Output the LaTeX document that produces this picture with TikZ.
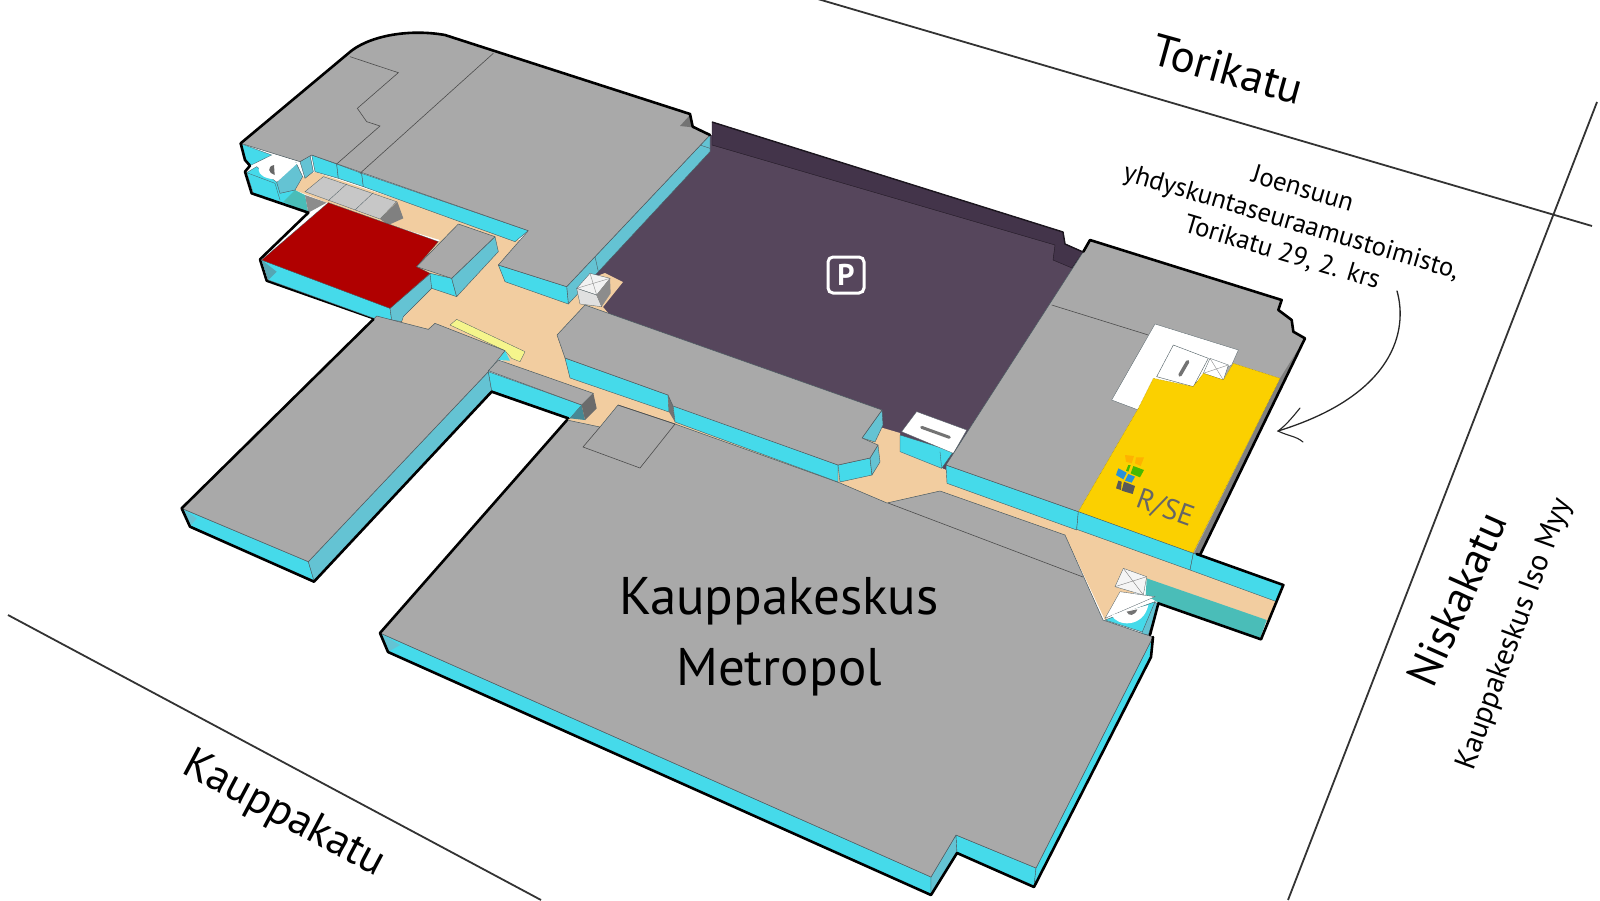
\documentclass[tikz,border=0pt]{standalone}
\usepackage{fontspec}
\setmainfont{PT Sans}
\definecolor{roof}{HTML}{A9A9A9}
\definecolor{wallA}{HTML}{45DAEA}
\definecolor{wallB}{HTML}{64C3D3}
\definecolor{floorc}{HTML}{F2CDA0}
\definecolor{park}{HTML}{56465C}
\definecolor{parkd}{HTML}{43344A}
\definecolor{edgec}{HTML}{4A5A60}
\definecolor{riseY}{HTML}{FBD000}
\definecolor{tealc}{HTML}{4ABDB8}
\tikzset{
 zone/.style 2 args={shift={(#1pt,-#2pt)},x=.33333pt,y=-.33333pt},
 roof/.style={fill=roof,draw=edgec,line width=.5pt,line join=round},
 wa/.style={fill=wallA,draw=edgec,line width=.4pt,line join=round},
 wb/.style={fill=wallB,draw=edgec,line width=.4pt,line join=round},
 outline/.style={draw=black,line width=2.6pt,line join=round,line cap=round},
 road/.style={draw=black!80,line width=1.8pt},
 thin/.style={draw=black!70,line width=.6pt},
 lab/.style={text=black,inner sep=0pt,align=center},
}
\begin{document}
\begin{tikzpicture}[x=1pt,y=-1pt]
\useasboundingbox (0,0) rectangle (1600,900);
\fill[white] (0,0) rectangle (1600,900);
% roads
\draw[road] (811,-3) -- (1592,226);
\draw[road] (1597,102) -- (1288,900);
\draw[road] (8,615) -- (541,900);
% parking
\fill[park] (695,130) -- (1083,252) -- (946,470) -- (883,440) -- (590,330) -- (570,290) -- cycle;
\fill[parkd,draw=black!50!parkd,line width=.4pt] (712,122) -- (1063,232) -- (1065,244) -- (1083,252) -- (1072,268) -- (1053,260) -- (1055,245) -- (712,145) -- cycle;
% corridor
\fill[floorc] (295,190) -- (303,177) -- (315,172) -- (520,240) -- (505,262) -- (560,290) -- (605,273) -- (623,282) -- (603,307) -- (640,350) -- (720,420) -- (883,428) -- (900,433) -- (900,452) -- (946,470) -- (1078,520) -- (1193,562) -- (1277,600) -- (1267,622) -- (1147,580) -- (1105,620) -- (1065,535) -- (887,505) -- (820,480) -- (675,425) -- (600,430) -- (568,423) -- (560,400) -- (480,345) -- (430,335) -- (395,325) -- (403,318) -- (430,290) -- (410,270) -- (440,240) -- (390,225) -- (320,200) -- cycle;
% upper left wing
\begin{scope}[zone={200}{20}]
 % lower and left walls
 \fill[wallA,draw=edgec,line width=.3pt] (125,372) -- (215,405) -- (150,437) -- (135,420) -- cycle;
 \fill[wallA,draw=edgec,line width=.3pt] (140,458) -- (170,440) -- (232,488) -- (285,510) -- (320,575) -- (160,520) -- cycle;
 \draw[edgec,line width=.3pt] (140,458) -- (225,490) -- (240,540);
 \fill[tealc] (250,545) -- (285,510) -- (315,525) -- (325,578) -- cycle;
 \fill[wb] (230,487) -- (288,428) -- (308,470) -- (285,510) -- (240,520) -- cycle;
 \fill[white] (222,405) -- (292,430) -- (232,485) -- cycle;
 \fill[white] (222,420) .. controls (160,425) and (160,475) .. (226,478) -- cycle;
 \fill[black!60] (222,435) .. controls (200,440) and (205,460) .. (224,465) -- cycle;
 % escalator
 \fill[black!45] (315,525) -- (380,548) -- (325,578) -- cycle;
 \fill[black!22,draw=edgec,line width=.3pt] (315,515) -- (370,470) -- (590,545) -- (540,597) -- cycle;
 \draw[edgec,line width=.3pt] (440,492) -- (385,542) (520,518) -- (465,570);
 \fill[black!50] (540,597) -- (592,545) -- (610,595) -- (565,615) -- cycle;
 % main wing walls
 \fill[wb] (300,425) -- (330,405) -- (340,455) -- (315,475) -- cycle;
 \fill[wa] (335,405) -- (410,432) -- (415,475) -- (345,455) -- cycle;
 \fill[wa] (410,432) -- (485,460) -- (490,500) -- (415,475) -- cycle;
 \fill[wa] (485,460) -- (985,632) -- (945,665) -- (490,500) -- cycle;
 \fill[wb] (1530,345) -- (1100,800) -- (1105,852) -- (1530,395) -- cycle;
 \draw[edgec,line width=.4pt] (1530,385) -- (1500,375) (1185,710) -- (1195,755);
 \fill[wa] (895,735) -- (1100,800) -- (1105,852) -- (915,785) -- cycle;
 % roof
 \path[roof] (122,370) -- (445,100) .. controls (500,50) and (620,25) .. (735,45) -- (1470,282) -- (1478,320) -- (1530,345) -- (1100,800) -- (895,735) -- (985,632) -- (335,405) -- (300,425) -- cycle;
 \fill[black!55] (1440,318) -- (1470,285) -- (1478,322) -- cycle;
 \draw[thin] (450,110) -- (595,158) -- (472,265) -- (500,305) -- (540,318) -- (410,432);
 \draw[thin] (880,100) -- (480,460);
 \draw[outline] (122,370) -- (445,100) .. controls (500,50) and (620,25) .. (735,45) -- (1470,282) -- (1478,320) -- (1530,345);
 \draw[outline] (122,370) -- (135,420) -- (150,437) -- (135,455) -- (155,520) -- (325,578) -- (180,718) -- (200,782) -- (530,898);
 % red shop
 \fill[wa] (185,720) -- (570,865) -- (575,900) -- (530,898) -- (205,780) -- cycle;
 \fill[wallB!85!black] (185,720) -- (230,755) -- (205,780) -- cycle;
 \fill[wb] (570,865) -- (692,760) -- (695,805) -- (610,890) -- (605,905) -- (575,900) -- cycle;
 \fill[fill={rgb,255:red,176;green,0;blue,0},draw=edgec,line width=.3pt] (385,548) -- (715,665) -- (650,740) -- (690,760) -- (570,865) -- (185,720) -- cycle;
 % gray box
 \fill[wa] (690,760) -- (755,775) -- (770,830) -- (695,805) -- cycle;
 \fill[wb] (885,650) -- (895,695) -- (770,830) -- (755,775) -- cycle;
 \path[roof] (775,612) -- (885,650) -- (755,775) -- (650,740) -- cycle;
 % stair box
 \fill[black!5,draw=edgec,line width=.3pt] (1170,760) -- (1230,775) -- (1190,825) -- (1130,805) -- cycle;
 \draw[black!45,line width=.4pt] (1170,760) -- (1190,825) (1230,775) -- (1130,805);
 \fill[black!12,draw=edgec,line width=.3pt] (1130,805) -- (1190,825) -- (1205,860) -- (1140,852) -- cycle;
 \fill[black!45] (1230,775) -- (1232,820) -- (1205,860) -- (1190,825) -- cycle;
\end{scope}
% long wing and strip
\begin{scope}[zone={170}{290}]
 \fill[fill={rgb,255:red,245;green,245;blue,140},draw=edgec,line width=.3pt] (840,105) -- (860,88) -- (1065,185) -- (1050,215) -- (1025,205) -- (1005,182) -- cycle;
 \fill[wallA] (985,210) -- (1005,182) -- (1020,212) -- cycle;
 \fill[wa] (35,655) -- (415,815) -- (432,872) -- (60,710) -- cycle;
 \fill[wallB] (35,655) -- (80,685) -- (60,710) -- cycle;
 \fill[wb] (415,815) -- (955,245) -- (965,302) -- (432,872) -- cycle;
 \path[roof] (620,78) -- (775,118) -- (795,100) -- (1005,182) -- (955,245) -- (415,815) -- (35,655) -- cycle;
 \fill[wa] (955,245) -- (1235,345) -- (1200,385) -- (965,302) -- cycle;
 \fill[wallB!70!black] (1235,345) -- (1245,390) -- (1200,385) -- cycle;
 \path[roof] (955,242) -- (985,210) -- (1270,310) -- (1235,345) -- cycle;
 \fill[black!58] (1235,345) -- (1270,310) -- (1280,355) -- (1245,390) -- cycle;
 \draw[outline] (610,88) -- (35,655) -- (60,710) -- (432,875) -- (965,305) -- (1195,385);
\end{scope}
% main block
\fill[wa] (380,633) -- (931,877) -- (931,895) -- (388,652) -- cycle;
\fill[wallB] (380,633) -- (400,645) -- (388,652) -- cycle;
\fill[wb] (931,877) -- (956,835) -- (957,853) -- (931,895) -- cycle;
\fill[wa] (956,835) -- (1036,868) -- (1034,887) -- (957,853) -- cycle;
\fill[wa] (1036,868) -- (1153,637) -- (1151,657) -- (1034,887) -- cycle;
\path[roof] (567,420) -- (600,427) -- (618,405) -- (675,424) -- (840,483) -- (887,503) -- (940,491) -- (1065,535) -- (1103,620) -- (1153,637) -- (1036,868) -- (956,835) -- (931,877) -- (380,633) -- cycle;
\draw[thin] (618,405) -- (675,424) -- (640,468) -- (583,447) -- (600,427);
\draw[thin] (888,503) -- (1083,577);
\draw[outline] (567,420) -- (380,633) -- (388,652) -- (931,895) -- (957,853) -- (1034,887) -- (1151,657) -- (1153,637);
% central block
\fill[wa] (565,358) -- (668,395) -- (669,412) -- (570,378) -- cycle;
\fill[black!55] (668,395) -- (673,406) -- (675,422) -- (669,412) -- cycle;
\fill[wa] (673,405) -- (838,465) -- (838,482) -- (675,422) -- cycle;
\fill[wa] (838,465) -- (870,458) -- (872,475) -- (840,482) -- cycle;
\fill[wb] (870,458) -- (878,445) -- (880,462) -- (872,475) -- cycle;
\fill[wb] (862,438) -- (882,410) -- (883,425) -- (875,442) -- cycle;
\path[roof] (585,305) -- (882,410) -- (862,438) -- (878,445) -- (870,458) -- (838,465) -- (673,406) -- (668,395) -- (565,358) -- (557,335) -- cycle;
% right block
\begin{scope}[zone={820}{220}]
 \fill[wa] (240,645) -- (400,695) -- (365,745) -- (240,695) -- cycle;
 \draw[edgec,line width=.3pt] (360,695) -- (365,745);
 \fill[white,draw=edgec,line width=.3pt] (290,575) -- (440,630) -- (400,700) -- (245,635) -- cycle;
 \draw[black!55,line width=3pt,line cap=round] (305,622) -- (388,652);
 \fill[wa] (378,735) -- (775,875) -- (770,930) -- (381,790) -- cycle;
 \path[roof] (810,60) -- (1385,240) -- (1375,270) -- (1415,300) -- (1420,335) -- (1455,355) -- (1140,1005) -- (1119,999) -- (775,875) -- (378,735) -- (790,95) -- cycle;
 \fill[black!50] (1455,355) -- (1380,475) -- (1122,1000) -- (1140,1005) -- cycle;
 \draw[thin] (695,255) -- (985,345);
 \fill[white,draw=edgec,line width=.3pt] (1005,312) -- (1255,390) -- (1235,435) -- (955,570) -- (875,540) -- cycle;
 \fill[white,draw=edgec,line width=.4pt] (1060,375) -- (1165,415) -- (1120,500) -- (1010,470) -- cycle;
 \draw[black!55,line width=3.5pt,line cap=round] (1103,425) -- (1080,465);
 \fill[white,draw=edgec,line width=.3pt] (1170,415) -- (1225,435) -- (1210,480) -- (1150,460) -- cycle;
 \draw[black!45,line width=.4pt] (1170,415) -- (1210,480) (1225,435) -- (1150,460);
 \fill[riseY,draw=riseY!70!black,line width=.5pt,densely dotted] (955,565) -- (1000,475) -- (1120,500) -- (1150,460) -- (1210,480) -- (1240,430) -- (1380,475) -- (1119,999) -- (775,875) -- cycle;
 \fill[orange!60!yellow] (915,705) -- (942,708) -- (935,730) -- (918,725) -- cycle;
 \fill[orange!60!yellow] (948,712) -- (972,712) -- (962,738) -- (945,730) -- cycle;
 \fill[green!45!olive] (925,735) -- (932,735) -- (925,755) -- (918,752) -- cycle;
 \fill[green!45!olive] (940,738) -- (972,750) -- (960,772) -- (932,760) -- cycle;
 \fill[blue!40!cyan!70!gray] (895,745) -- (920,758) -- (910,778) -- (888,765) -- cycle;
 \fill[blue!40!cyan!70!gray] (925,762) -- (945,770) -- (935,788) -- (915,782) -- cycle;
 \fill[black!65] (895,782) -- (905,785) -- (903,810) -- (888,805) -- cycle;
 \fill[black!65] (912,785) -- (945,798) -- (938,822) -- (905,812) -- cycle;
 \draw[outline] (790,95) -- (810,60) -- (1385,240) -- (1375,270) -- (1415,300) -- (1420,335) -- (1455,355) -- (1140,1005);
\end{scope}
\draw[black!60!parkd,line width=1.4pt,line join=round] (712,122) -- (1063,232) -- (1065,244) -- (1083,252);
% corridor end and stair
\begin{scope}[zone={1000}{480}]
 \fill[wa] (235,95) -- (580,220) -- (570,270) -- (230,148) -- cycle;
 \fill[wa] (580,220) -- (850,315) -- (830,365) -- (570,270) -- cycle;
 \fill[tealc] (440,295) -- (800,420) -- (780,475) -- (470,365) -- (437,345) -- cycle;
 \fill[wa] (315,420) -- (465,365) -- (445,462) -- cycle;
 \fill[wb] (465,365) -- (475,375) -- (445,465) -- (425,460) -- cycle;
 \fill[white,draw=edgec,line width=.3pt] (315,415) -- (360,335) -- (465,350) -- cycle;
 \fill[white] (335,405) .. controls (350,440) and (430,445) .. (445,375) -- cycle;
 \fill[black!55] (380,395) .. controls (385,410) and (405,408) .. (412,388) -- cycle;
 \fill[black!4,draw=edgec,line width=.3pt] (370,265) -- (440,290) -- (430,345) -- (345,320) -- cycle;
 \draw[black!50,line width=.4pt] (370,265) -- (430,345) (440,290) -- (345,320);
 \draw[outline] (590,222) -- (850,315) -- (783,478) -- (475,370) -- (450,465);
\end{scope}
% P sign
\node[draw=white,line width=3pt,rounded corners=5pt,minimum size=36pt,inner sep=0pt,text=white,font=\bfseries\fontsize{30}{30}\selectfont] (psign) at (846,275) {P};
% texts
\node[lab,font=\fontsize{53}{53}\selectfont] (kk) at (779,601) {Kauppakeskus};
\node[lab,font=\fontsize{53}{53}\selectfont] (mp) at (779,672) {Metropol};
\node[lab,rotate=-15.5,font=\fontsize{45}{45}\selectfont] (tk) at (1228,69) {Torikatu};
\node[lab,rotate=66,font=\fontsize{44}{44}\selectfont] (nk) at (1457,599) {Niskakatu};
\node[lab,rotate=70,font=\fontsize{30}{30}\selectfont] (iso) at (1515,634) {Kauppakeskus Iso Myy};
\node[lab,rotate=-28,font=\fontsize{44}{44}\selectfont] (kp) at (284,815) {Kauppakatu};
\node[lab,rotate=-16.6,font=\fontsize{26.6}{26.6}\selectfont] (j1) at (1303,188) {Joensuun};
\node[lab,rotate=-16.6,font=\fontsize{26.6}{26.6}\selectfont] (j2) at (1291,223) {yhdyskuntaseuraamustoimisto,};
\node[lab,rotate=-16.6,font=\fontsize{26.6}{26.6}\selectfont] (j3) at (1282,253) {Torikatu 29, 2. krs};
\node[lab,rotate=-20,text=black!60,font=\fontsize{29}{29}\selectfont] (rs) at (1165,509) {R/SE};
% pointer arrow
\coordinate (a0) at (1397,291);
\coordinate (a1) at (1278,431);
\draw[black!85,line width=1.3pt,line cap=round] (a0) .. controls (1408,330) and (1395,395) .. (a1);
\draw[black!85,line width=1.1pt,line cap=round] (1300,408) .. controls (1292,418) and (1285,426) .. (a1) .. controls (1288,436) and (1296,436) .. (1303,442);
\end{tikzpicture}
\end{document}
